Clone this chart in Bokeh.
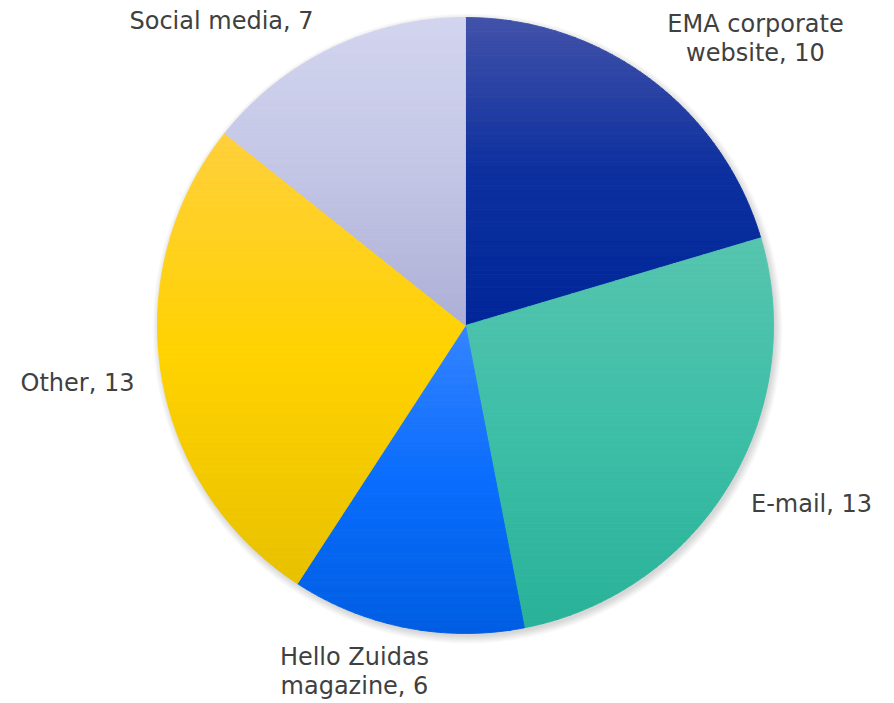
import math
from bokeh.plotting import figure
from bokeh.models import ColumnDataSource
from bokeh.core.properties import value
from bokeh.embed import file_html
from bokeh.resources import INLINE

# ---- data ----
categories = ["EMA corporate website", "E-mail", "Hello Zuidas magazine", "Other", "Social media"]
values = [10, 13, 6, 13, 7]
label_names = ["EMA corporate\nwebsite", "E-mail", "Hello Zuidas\nmagazine", "Other", "Social media"]

# ---- styles ----
# three-stop vertical gradients (top, middle, bottom) per slice
gradients = [
    ("#4252a9", "#0d309f", "#002699"),
    ("#56c5af", "#3dbea7", "#29b299"),
    ("#3584ff", "#0a6dfd", "#005ee3"),
    ("#ffd03c", "#ffd200", "#e8c100"),
    ("#d3d5ef", "#c3c6e5", "#adb0d6"),
]
W, H = 894, 703
CX, CY, R = 465, 378, 308
label_pos = [(755, 665), (811, 200), (354, 32), (77, 321), (221, 683)]
font = "DejaVu Sans"
font_size = "24px"
text_color = "#404040"


def hex2rgb(h):
    h = h.lstrip("#")
    return tuple(int(h[i:i + 2], 16) for i in (0, 2, 4))


def mix(c1, c2, t):
    a, b = hex2rgb(c1), hex2rgb(c2)
    return "#%02x%02x%02x" % tuple(int(round(a[i] + (b[i] - a[i]) * t)) for i in range(3))


def grad_color(stops, t):
    if t < 0.5:
        return mix(stops[0], stops[1], t / 0.5)
    return mix(stops[1], stops[2], (t - 0.5) / 0.5)


def clip(poly, y, keep_above):
    out = []
    n = len(poly)
    for i in range(n):
        p, q = poly[i], poly[(i + 1) % n]
        pin = p[1] >= y if keep_above else p[1] <= y
        qin = q[1] >= y if keep_above else q[1] <= y
        if pin:
            out.append(p)
        if pin != qin:
            t = (y - p[1]) / (q[1] - p[1])
            out.append((p[0] + t * (q[0] - p[0]), y))
    return out


p = figure(width=W, height=H, x_range=(0, W), y_range=(0, H),
           output_backend="svg", toolbar_location=None, min_border=0)
p.axis.visible = False
p.grid.visible = False
p.outline_line_color = None
p.background_fill_color = "white"

# soft shadow under the pie
for k in range(8):
    p.circle(x=[CX + 2], y=[CY - 3], radius=R + 7 - k, fill_color="black",
             fill_alpha=0.018, line_color=None)

total = float(sum(values))
xs, ys, cols = [], [], []
start = 0.0
nb = 90
for i, v in enumerate(values):
    sweep = v / total * 2 * math.pi
    npts = max(8, int(sweep * 120))
    poly = [(CX, CY)]
    for j in range(npts + 1):
        a = start + sweep * j / npts
        poly.append((CX + R * math.sin(a), CY + R * math.cos(a)))
    ytop = max(pt[1] for pt in poly)
    ybot = min(pt[1] for pt in poly)
    for b in range(nb):
        y1 = ytop - (ytop - ybot) * b / nb
        y0 = ytop - (ytop - ybot) * (b + 1) / nb
        part = clip(clip(poly, y0, True), y1, False)
        if len(part) < 3:
            continue
        xs.append([pt[0] for pt in part])
        ys.append([pt[1] for pt in part])
        cols.append(grad_color(gradients[i], (b + 0.5) / nb))
    start += sweep

src = ColumnDataSource(dict(xs=xs, ys=ys, color=cols))
p.patches("xs", "ys", source=src, fill_color="color", line_color="color", line_width=0.9)

texts = [f"{n}, {v}" for n, v in zip(label_names, values)]
lsrc = ColumnDataSource(dict(x=[q[0] for q in label_pos], y=[q[1] for q in label_pos], text=texts))
p.text("x", "y", text="text", source=lsrc, text_align="center", text_baseline="middle",
       text_font=value(font), text_font_size=font_size, text_color=text_color,
       text_line_height=1.02)

open("out.html", "w").write(file_html(p, INLINE))
